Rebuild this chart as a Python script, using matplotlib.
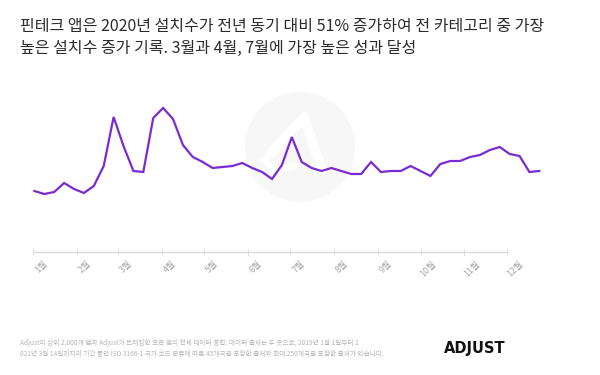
import matplotlib
matplotlib.use("Agg")
import matplotlib.pyplot as plt
import matplotlib.transforms as mtransforms
import matplotlib.dates as mdates
from matplotlib import patches
import pandas as pd

plt.rcParams['font.family'] = ['Noto Sans CJK KR', 'DejaVu Sans']

# weekly install index, 2020
weeks = pd.date_range('2020-01-02', periods=52, freq='7D')
installs = [61, 58, 60, 69, 63, 59, 66, 86, 135, 106, 81, 80, 134, 144, 133, 107,
            95, 90, 84, 85, 86, 89, 84, 80, 73, 87, 115, 90, 84, 81, 84, 81,
            78, 78, 90, 80, 81, 81, 86, 81, 76, 88, 91, 91, 95, 97, 102, 105,
            98, 96, 80, 81]
month_starts = pd.date_range('2020-01-01', periods=12, freq='MS')
month_labels = ['1월', '2월', '3월', '4월', '5월', '6월', '7월', '8월', '9월', '10월', '11월', '12월']

title = ['핀테크 앱은 2020년 설치수가 전년 동기 대비 51% 증가하여 전 카테고리 중 가장',
         '높은 설치수 증가 기록. 3월과 4월, 7월에 가장 높은 성과 달성']
footnote = ['Adjust의 상위 2,000개 앱과 Adjust가 트래킹한 모든 앱의 전체 데이터 종합. 데이터 출처는 두 곳으로, 2019년 1월 1일부터 2',
            '021년 3월 14일까지의 기간 동안 ISO 3166-1 국가 코드 분류에 따른 45개국을 포함한 출처와 최대 250개국을 포함한 출처가 있습니다.']

W, H = 600, 375
fig = plt.figure(figsize=(6, 3.75), dpi=100)
fig.patch.set_facecolor('white')

# watermark circle with a rough logo stroke
wm = fig.add_axes([0, 0, 1, 1])
wm.set_xlim(0, W)
wm.set_ylim(H, 0)
wm.axis('off')
wm.add_patch(patches.Circle((300, 147), 55, facecolor='#f7f7f7', edgecolor='none'))
wm.plot([322, 304, 272], [170, 117, 152], color='white', lw=7, solid_capstyle='round',
        solid_joinstyle='round')
wm.plot([272, 264, 274, 296], [152, 160, 170, 166], color='white', lw=4.5, solid_capstyle='round')

ax = fig.add_axes([33 / W, (H - 252) / H, 512 / W, 157 / H])
ax.set_facecolor('none')
ax.plot(weeks, installs, color='#7a2bd2', lw=1.6, solid_joinstyle='miter')
ax.set_xlim(pd.Timestamp('2020-01-01'), pd.Timestamp('2020-12-28'))
ax.set_ylim(0, 157)

for s in ['top', 'right', 'left']:
    ax.spines[s].set_visible(False)
ax.spines['bottom'].set_color('#d6d6d6')
ax.spines['bottom'].set_linewidth(0.8)
ax.spines['bottom'].set_bounds(mdates.date2num(month_starts[0]), mdates.date2num(month_starts[-1]))
ax.set_yticks([])
ax.set_xticks(month_starts)
ax.set_xticklabels(month_labels, rotation=45, ha='center', fontsize=6.5, color='#a8a8a8')
ax.tick_params(axis='x', direction='inout', length=4, width=0.6, color='#d6d6d6', pad=3)
offset = mtransforms.ScaledTranslation(8 / 100, 0, fig.dpi_scale_trans)
for lab in ax.get_xticklabels():
    lab.set_transform(lab.get_transform() + offset)

fig.text(20 / W, 1 - 26 / H, title[0], fontsize=11.5, color='#2b2b2b', weight='medium', va='center')
fig.text(20 / W, 1 - 48 / H, title[1], fontsize=11.5, color='#2b2b2b', weight='medium', va='center')

fig.text(20 / W, 1 - 343 / H, footnote[0], fontsize=4.75, color='#b5b5b5', va='center')
fig.text(20 / W, 1 - 354 / H, footnote[1], fontsize=4.75, color='#b5b5b5', va='center')

fig.text(506 / W, 1 - 348 / H, 'ADJUST', fontsize=10.5, color='#111111', weight='bold',
         ha='right', va='center', family='DejaVu Sans')

fig.savefig('out.png', dpi=100, facecolor='white')
